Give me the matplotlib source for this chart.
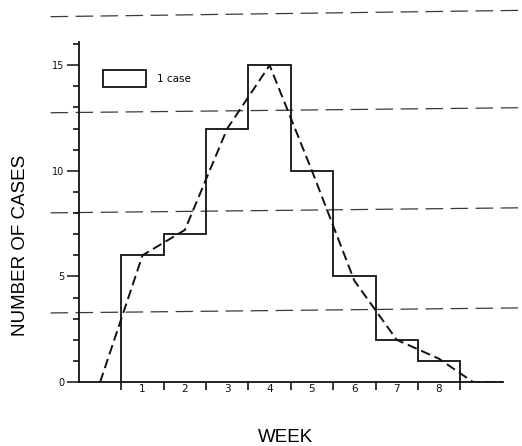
import numpy as np
import matplotlib.pyplot as plt
from matplotlib.patches import Patch
from matplotlib.ticker import MultipleLocator

# cases per week (histogram)
week_edges = [0, 1, 2, 3, 4, 5, 6, 7, 8]
week_labels = ['1', '2', '3', '4', '5', '6', '7', '8']
cases = [6, 7, 12, 15, 10, 5, 2, 1]

# dashed smoothed curve
curve_x = [-0.5, 0.5, 1.5, 2.5, 3.5, 4.5, 5.5, 6.5, 7.5, 8.3, 9.0]
curve_y = [0, 6, 7.2, 12, 15, 10, 4.8, 2, 1.1, 0, 0]

# long dashed lines of the scanned page (left level, right level)
page_lines_left = [3.27, 8.01, 12.75, 17.3]
page_lines_right = [3.51, 8.25, 12.99, 17.6]
page_x = [-1.67, 9.46]

fig = plt.figure(figsize=(5.22, 4.46), dpi=100)
ax = fig.add_axes([0.1513, 0.1435, 0.8115, 0.7623])

for yl, yr in zip(page_lines_left, page_lines_right):
    ax.plot(page_x, [yl, yr], color='#3a3a3a', lw=0.9, dashes=(14, 6),
            clip_on=False, zorder=1)

ax.stairs(cases, week_edges, color='#111111', lw=1.3, zorder=3)
ax.plot(curve_x, curve_y, color='#111111', lw=1.4, dashes=(5, 2.5), zorder=4)

ax.set_xlim(-1, 9)
ax.set_ylim(0, 16.1)
for s in ['top', 'right']:
    ax.spines[s].set_visible(False)
ax.spines['left'].set_linewidth(1.3)
ax.spines['bottom'].set_linewidth(1.3)
ax.spines['left'].set_color('#111111')
ax.spines['bottom'].set_color('#111111')

# y ticks
ax.set_yticks([0, 5, 10, 15])
ax.yaxis.set_minor_locator(MultipleLocator(1))
ax.tick_params(axis='y', which='major', length=8.5, width=1.1, pad=2,
               labelsize=7, colors='#111111')
ax.tick_params(axis='y', which='minor', length=4.3, width=1.1)

# x ticks at week edges, labels in the middle
ax.set_xticks(week_edges)
ax.set_xticklabels([])
ax.set_xticks([e + 0.5 for e in week_edges[:-1]], minor=True)
ax.set_xticklabels(week_labels, minor=True)
ax.tick_params(axis='x', which='major', length=5.8, width=1.1, direction='out')
ax.tick_params(axis='x', which='minor', length=0, pad=1.5, labelsize=7.5,
               colors='#111111')

ax.legend(handles=[Patch(facecolor='white', edgecolor='#111111', lw=1.3)],
          labels=['1 case'], loc='upper left', bbox_to_anchor=(0.0567, 0.918),
          frameon=False, borderpad=0, borderaxespad=0, fontsize=7.5,
          handlelength=4.1, handleheight=2.2, handletextpad=1.05)

fig.text(21 / 522, 1 - 245 / 446, 'NUMBER OF CASES', rotation=90,
         ha='center', va='center', fontsize=13.5, family='Liberation Sans')
fig.text(286 / 522, 1 - 438 / 446, 'WEEK', ha='center', va='center',
         fontsize=13.5, family='Liberation Sans')

fig.savefig('out.png', dpi=100)
